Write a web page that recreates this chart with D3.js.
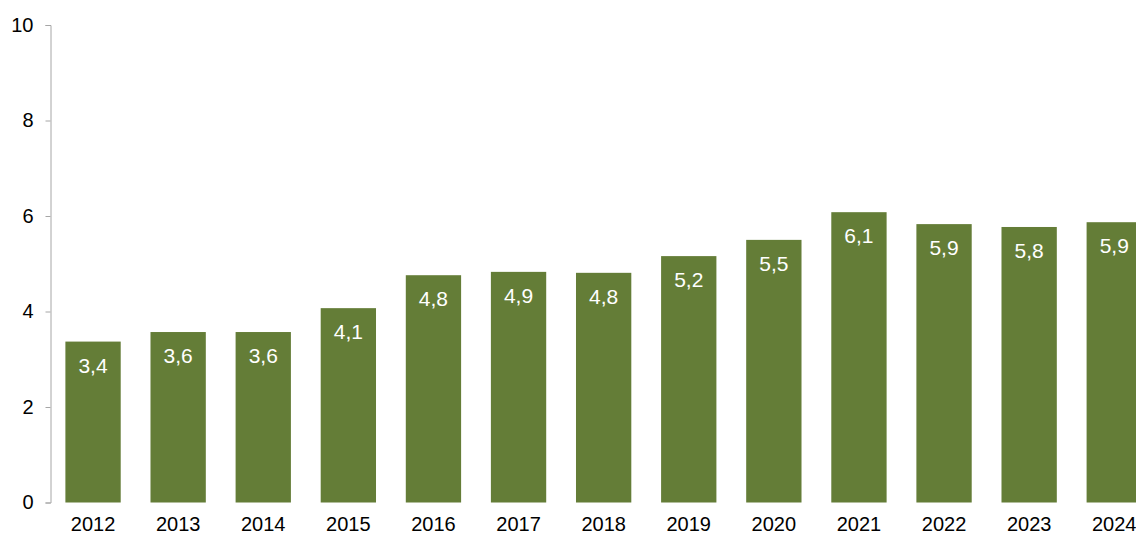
<!DOCTYPE html>
<html>
<head>
<meta charset="utf-8">
<script src="https://cdn.jsdelivr.net/npm/d3@7"></script>
<style>
  body { margin: 0; background: #fff; }
  svg { display: block; font-family: Arial, "Liberation Sans", sans-serif; }
  .barra { fill: #647d37; }
  .rotulo { fill: #fff; font-size: 21px; text-anchor: middle; }
  .eixo text { font-size: 20px; fill: #000; }
  .eixo path, .eixo line { stroke: #a6a6a6; }
</style>
</head>
<body>
<svg id="grafico"></svg>
<script>
const anos = ['2012', '2013', '2014', '2015', '2016', '2017', '2018', '2019', '2020', '2021', '2022', '2023', '2024'];
const valores = [3.37, 3.57, 3.57, 4.07, 4.76, 4.83, 4.81, 5.16, 5.5, 6.08, 5.83, 5.77, 5.87];
const rotulos = ['3,4', '3,6', '3,6', '4,1', '4,8', '4,9', '4,8', '5,2', '5,5', '6,1', '5,9', '5,8', '5,9'];
const ticksY = [0, 2, 4, 6, 8, 10];

const largura = 1136, altura = 535;
const svg = d3.select('#grafico').attr('width', largura).attr('height', altura);

const x = d3.scaleBand().domain(anos).range([50.5, 50.5 + 13 * 85.1]).paddingInner(0.35).paddingOuter(0.175);
const y = d3.scaleLinear().domain([0, 10]).range([502.5, 25]);

svg.selectAll('.barra')
  .data(valores)
  .enter()
  .append('rect')
  .classed('barra', true)
  .attr('x', (d, i) => x(anos[i]))
  .attr('y', d => y(d))
  .attr('width', x.bandwidth())
  .attr('height', d => y(0) - y(d));

svg.selectAll('.rotulo')
  .data(valores)
  .enter()
  .append('text')
  .classed('rotulo', true)
  .text((d, i) => rotulos[i])
  .attr('x', (d, i) => x(anos[i]) + x.bandwidth() / 2)
  .attr('y', d => y(d) + 31);

const eixoY = svg.append('g')
  .classed('eixo', true)
  .attr('transform', 'translate(50.5, 0)')
  .call(d3.axisLeft(y).tickValues(ticksY).tickSize(5).tickSizeOuter(5).tickPadding(12).tickFormat(d3.format('d')));
eixoY.selectAll('text').attr('font-family', null).attr('font-size', null);

const eixoX = svg.append('g')
  .classed('eixo', true)
  .attr('transform', 'translate(0, 502.5)');
eixoX.selectAll('text')
  .data(anos)
  .enter()
  .append('text')
  .attr('x', d => x(d) + x.bandwidth() / 2)
  .attr('y', 28)
  .attr('text-anchor', 'middle')
  .text(d => d);
</script>
</body>
</html>
